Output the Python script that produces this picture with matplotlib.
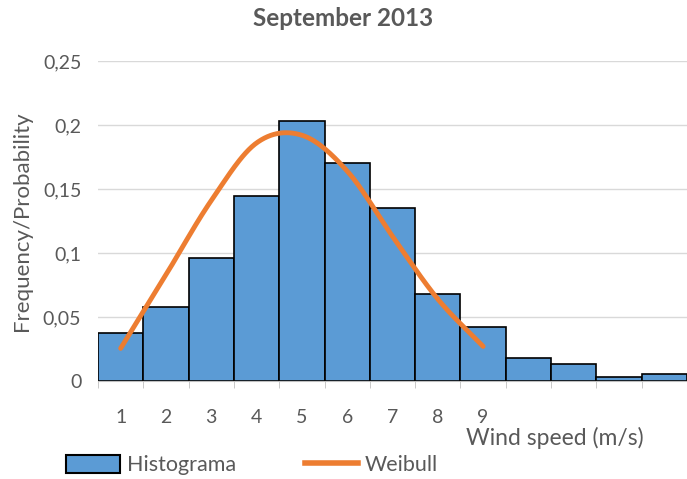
import numpy as np
import matplotlib
matplotlib.use("Agg")
import matplotlib.pyplot as plt
from matplotlib.patches import Patch
from matplotlib.lines import Line2D

plt.rcParams['font.family'] = ['Lato', 'DejaVu Sans']

# histogram (13 bins) and Weibull fit (values at 1..9)
bins = list(range(1, 14))
freq = [0.0375, 0.058, 0.0958, 0.1448, 0.2034, 0.170, 0.135, 0.068, 0.0424,
        0.0177, 0.0133, 0.0034, 0.0052]
weib_x = [1, 2, 3, 4, 5, 6, 7, 8, 9]
weib_y = [0.0255, 0.083, 0.141, 0.186, 0.192, 0.164, 0.113, 0.064, 0.027]
tick_labels = ['1', '2', '3', '4', '5', '6', '7', '8', '9']

blue = '#5B9BD5'
orange = '#ED7D31'
grey = '#595959'


def smooth(xs, ys, n=30):
    # catmull-rom like Excel's smoothed line
    xs = np.asarray(xs, float)
    ys = np.asarray(ys, float)
    px = np.concatenate([[2 * xs[0] - xs[1]], xs, [2 * xs[-1] - xs[-2]]])
    py = np.concatenate([[2 * ys[0] - ys[1]], ys, [2 * ys[-1] - ys[-2]]])
    ox, oy = [], []
    t = np.linspace(0, 1, n)
    for i in range(1, len(px) - 2):
        for p, o in ((px, ox), (py, oy)):
            p0, p1, p2, p3 = p[i - 1], p[i], p[i + 1], p[i + 2]
            o.extend(0.5 * ((2 * p1) + (-p0 + p2) * t
                            + (2 * p0 - 5 * p1 + 4 * p2 - p3) * t ** 2
                            + (-p0 + 3 * p1 - 3 * p2 + p3) * t ** 3))
    return ox, oy


fig = plt.figure(figsize=(6.87, 4.79), dpi=100)
ax = fig.add_axes([98 / 687, 1 - 381 / 479, 589 / 687, 320 / 479])

ax.bar(bins, freq, width=1.0, color=blue, edgecolor='black', linewidth=1.2, zorder=2)
sx, sy = smooth(weib_x, weib_y)
ax.plot(sx, sy, color=orange, linewidth=3.5, solid_capstyle='round', zorder=3)

ax.set_xlim(0.5, 13.5)
ax.set_ylim(0, 0.25)
ax.set_yticks([0, 0.05, 0.1, 0.15, 0.2, 0.25])
ax.set_yticklabels(['0', '0,05', '0,1', '0,15', '0,2', '0,25'])
ax.set_xticks(weib_x)
ax.set_xticklabels(tick_labels)
ax.set_xticks(np.arange(0.5, 14, 1), minor=True)
ax.tick_params(axis='x', which='major', length=0, pad=20, labelsize=14, colors=grey)
ax.tick_params(axis='x', which='minor', length=5, color='#BFBFBF')
ax.tick_params(axis='y', length=0, pad=12, labelsize=14, colors=grey)
ax.grid(axis='y', color='#D9D9D9', linewidth=1, zorder=0)
ax.set_axisbelow(True)
for s in ['top', 'right', 'left']:
    ax.spines[s].set_visible(False)
ax.spines['bottom'].set_color('#BFBFBF')

ax.set_ylabel('Frequency/Probability', fontsize=16, color=grey, labelpad=8)
fig.text(343 / 687, 1 - 18 / 479, 'September 2013', ha='center', va='center',
         fontsize=17.5, fontweight='bold', color=grey)
fig.text(555 / 687, 1 - 438 / 479, 'Wind speed (m/s)', ha='center', va='center',
         fontsize=16.5, color=grey)

handles = [Patch(facecolor=blue, edgecolor='black', linewidth=1.5),
           Line2D([0], [0], color=orange, linewidth=4)]
fig.legend(handles, ['Histograma', 'Weibull'], loc='center left',
           bbox_to_anchor=(47 / 687, 1 - 465 / 479), ncol=2, frameon=False,
           fontsize=15.5, labelcolor=grey, handlelength=2.5, handleheight=0.9,
           handletextpad=0.3, columnspacing=3.2)

fig.savefig('out.png', dpi=100)
